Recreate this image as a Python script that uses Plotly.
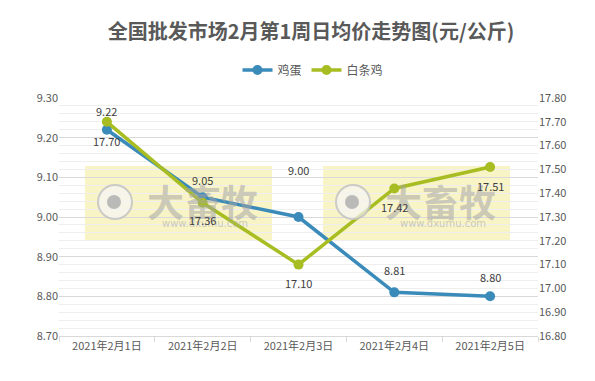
import plotly.graph_objects as go

categories = ["2021年2月1日", "2021年2月2日", "2021年2月3日", "2021年2月4日", "2021年2月5日"]
egg = [9.22, 9.05, 9.00, 8.81, 8.80]
chicken = [17.70, 17.36, 17.10, 17.42, 17.51]
left_ticks = [8.70, 8.80, 8.90, 9.00, 9.10, 9.20, 9.30]
right_ticks = [16.80, 16.90, 17.00, 17.10, 17.20, 17.30, 17.40, 17.50, 17.60, 17.70, 17.80]

# label offsets (pixels, styling only)
egg_label_shift = [19, 17, 47, 22, 19]
chicken_label_shift = [-19, -17, -18, -19, -19]

W, H = 595, 381
L, R, T, B = 59, 57, 98, 45
PW, PH = W - L - R, H - T - B

FONT = "Noto Sans CJK SC, Microsoft YaHei, sans-serif"
BLUE = "#3B8BBA"
GREEN = "#A7BD22"

def px(x):
    return (x - L) / PW

def py(y):
    return (H - B - y) / PH

fig = go.Figure()
fig.add_trace(go.Scatter(
    x=categories, y=egg, name="鸡蛋", mode="lines+markers",
    line=dict(color=BLUE, width=3.5), marker=dict(size=10, color=BLUE), yaxis="y"))
fig.add_trace(go.Scatter(
    x=categories, y=chicken, name="白条鸡", mode="lines+markers",
    line=dict(color=GREEN, width=3.5), marker=dict(size=10, color=GREEN), yaxis="y2"))

shapes = []
annotations = []
for (x0, x1) in [(85, 272), (323, 510)]:
    shapes.append(dict(type="rect", xref="paper", yref="paper",
                       x0=px(x0), x1=px(x1), y0=py(241), y1=py(166),
                       fillcolor="rgba(245,236,160,0.6)", line=dict(width=0), layer="below"))
    cx, cy = x0 + 30, 202
    shapes.append(dict(type="circle", xref="paper", yref="paper",
                       x0=px(cx - 17), x1=px(cx + 17), y0=py(cy + 17), y1=py(cy - 17),
                       fillcolor="rgba(245,245,245,0.7)", line=dict(color="rgba(195,195,195,0.85)", width=2)))
    shapes.append(dict(type="circle", xref="paper", yref="paper",
                       x0=px(cx - 8), x1=px(cx + 6), y0=py(cy + 7), y1=py(cy - 7),
                       fillcolor="rgba(175,175,175,0.85)", line=dict(width=0)))
    annotations.append(dict(text="<b>大畜牧</b>", xref="paper", yref="paper",
                            x=px(x0 + 117), y=py(201), xanchor="center", yanchor="middle",
                            showarrow=False,
                            font=dict(size=37, color="rgba(165,165,165,0.55)", family=FONT)))
    annotations.append(dict(text="www.dxumu.com", xref="paper", yref="paper",
                            x=px(x0 + 120), y=py(223), xanchor="center", yanchor="middle",
                            showarrow=False,
                            font=dict(size=10, color="rgba(175,175,175,0.65)", family="DejaVu Sans")))

for c, v, s in zip(categories, egg, egg_label_shift):
    annotations.append(dict(x=c, y=v, xref="x", yref="y", text=f"{v:.2f}", showarrow=False,
                            xanchor="center", yanchor="middle",
                            yshift=s, font=dict(size=11, color="#404040", family=FONT)))
for c, v, s in zip(categories, chicken, chicken_label_shift):
    annotations.append(dict(x=c, y=v, xref="x", yref="y2", text=f"{v:.2f}", showarrow=False,
                            xanchor="center", yanchor="middle",
                            yshift=s, font=dict(size=11, color="#404040", family=FONT)))

fig.update_layout(
    width=W, height=H,
    margin=dict(l=L, r=R, t=T, b=B, autoexpand=False),
    paper_bgcolor="white", plot_bgcolor="white",
    title=dict(text="<b>全国批发市场2月第1周日均价走势图(元/公斤)</b>",
               x=311 / W, xanchor="center", y=1 - 32 / H, yanchor="middle",
               font=dict(size=20, color="#595959", family=FONT)),
    legend=dict(orientation="h", x=px(313), xanchor="center", y=py(70), yanchor="middle",
                font=dict(size=12, color="#595959", family=FONT), itemwidth=30,
                tracegroupgap=0),
    showlegend=True,
    xaxis=dict(type="category", range=[-0.5, 4.5], showgrid=False,
               showline=True, linecolor="#d9d9d9", linewidth=1,
               ticks="outside", tickson="boundaries", ticklen=5, tickcolor="#d9d9d9",
               tickfont=dict(size=11, color="#595959", family=FONT)),
    yaxis=dict(range=[8.70, 9.30], tickvals=left_ticks, ticktext=[f"{v:.2f}" for v in left_ticks],
               showgrid=True, gridcolor="#d9d9d9", gridwidth=1, zeroline=False,
               minor=dict(dtick=0.02, tick0=8.70, showgrid=True, gridcolor="#eeeeee", gridwidth=1),
               tickfont=dict(size=11, color="#595959", family=FONT), ticks="", showline=False),
    yaxis2=dict(range=[16.80, 17.80], tickvals=right_ticks, ticktext=[f"{v:.2f}" for v in right_ticks],
                overlaying="y", side="right", showgrid=False, zeroline=False,
                tickfont=dict(size=11, color="#595959", family=FONT), ticks="", showline=False),
    shapes=shapes,
    annotations=annotations,
)

fig.write_html("out.html", config={"displayModeBar": False},
               post_script="document.body.style.margin='0';")
